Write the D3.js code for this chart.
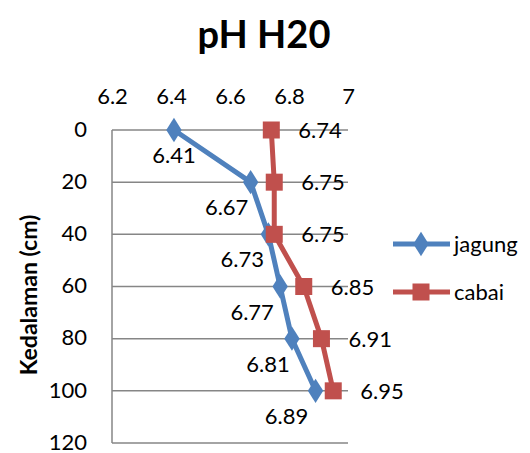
<!DOCTYPE html>
<html><head><meta charset="utf-8">
<script src="https://cdn.jsdelivr.net/npm/d3@7"></script>
<style>body{margin:0;background:#fff}svg{display:block}text{font-family:Lato,"Open Sans",sans-serif}</style>
</head><body>
<svg id="c" width="530" height="453"></svg>
<script>
const depths = [0, 20, 40, 60, 80, 100];
const jagung = [6.41, 6.67, 6.73, 6.77, 6.81, 6.89];
const cabai = [6.74, 6.75, 6.75, 6.85, 6.91, 6.95];
const xTicks = [6.2, 6.4, 6.6, 6.8, 7];
const yTicks = [0, 20, 40, 60, 80, 100, 120];
const seriesNames = ["jagung", "cabai"];
// label offsets for jagung (layout only)
const jagungLabelDx = [0, -24, -26, -28, -24, -29];

const svg = d3.select("#c");
const x = d3.scaleLinear().domain([6.2, 7]).range([112, 348]);
const y = d3.scaleLinear().domain([0, 120]).range([130, 443]);
const grid = "#868686";
const fs = 22;

svg.append("text").attr("x", 264).attr("y", 48).attr("text-anchor", "middle")
  .attr("font-weight", "bold").attr("font-size", 38).text("pH H20");

// gridlines
svg.append("g").selectAll("line").data(yTicks).join("line")
  .attr("x1", x(6.2)).attr("x2", x(7)).attr("y1", d => y(d)).attr("y2", d => y(d))
  .attr("stroke", grid).attr("stroke-width", 1.5);
svg.append("line").attr("x1", x(6.2)).attr("x2", x(6.2)).attr("y1", y(0)).attr("y2", y(120))
  .attr("stroke", grid).attr("stroke-width", 1.5);

// axes
const xa = svg.append("g").attr("transform", `translate(0,${y(0)})`)
  .call(d3.axisTop(x).tickValues(xTicks).tickSize(0).tickPadding(26).tickFormat(d3.format("")));
const ya = svg.append("g").attr("transform", `translate(${x(6.2)},0)`)
  .call(d3.axisLeft(y).tickValues(yTicks).tickSize(0).tickPadding(25));
[xa, ya].forEach(a => { a.select(".domain").remove();
  a.selectAll("text").attr("font-size", fs).attr("font-family", "Lato").attr("fill", "#000"); });
ya.selectAll("text").attr("dy", "0.28em");

svg.append("text").attr("transform", "translate(37,295) rotate(-90)").attr("text-anchor", "middle")
  .attr("font-weight", "bold").attr("font-size", 23).text("Kedalaman (cm)");

const colors = ["#4F81BD", "#C0504D"];
const line = d3.line().x(d => x(d[0])).y(d => y(d[1]));
const diamond = d3.symbol().type(d3.symbolDiamond).size(170);

// jagung
svg.append("path").datum(jagung.map((v, i) => [v, depths[i]])).attr("d", line)
  .attr("fill", "none").attr("stroke", colors[0]).attr("stroke-width", 5).attr("stroke-linejoin", "round");
svg.append("g").selectAll("path").data(jagung).join("path")
  .attr("d", diamond).attr("transform", (d, i) => `translate(${x(d)},${y(depths[i])}) scale(1.1,1)`)
  .attr("fill", colors[0]);

// cabai
svg.append("path").datum(cabai.map((v, i) => [v, depths[i]])).attr("d", line)
  .attr("fill", "none").attr("stroke", colors[1]).attr("stroke-width", 5).attr("stroke-linejoin", "round");
svg.append("g").selectAll("rect").data(cabai).join("rect")
  .attr("x", d => x(d) - 8.5).attr("y", (d, i) => y(depths[i]) - 8.5)
  .attr("width", 17).attr("height", 17).attr("fill", colors[1]);

// labels
svg.append("g").selectAll("text").data(jagung).join("text")
  .attr("x", (d, i) => x(d) + jagungLabelDx[i]).attr("y", (d, i) => y(depths[i]) + 33)
  .attr("text-anchor", "middle").attr("font-size", fs).text(d => d3.format(".2f")(d));
svg.append("g").selectAll("text").data(cabai).join("text")
  .attr("x", d => x(d) + 27).attr("y", (d, i) => y(depths[i]) + 8)
  .attr("font-size", fs).text(d => d3.format(".2f")(d));

// legend
const lg = svg.append("g");
seriesNames.forEach((n, i) => {
  const ly = 244 + i * 48;
  lg.append("line").attr("x1", 393).attr("x2", 450).attr("y1", ly).attr("y2", ly)
    .attr("stroke", colors[i]).attr("stroke-width", 5);
  if (i === 0) lg.append("path").attr("d", diamond).attr("transform", `translate(421,${ly}) scale(1.1,1)`).attr("fill", colors[0]);
  else lg.append("rect").attr("x", 412.5).attr("y", ly - 8.5).attr("width", 17).attr("height", 17).attr("fill", colors[1]);
  lg.append("text").attr("x", 454).attr("y", ly + 8).attr("font-size", fs).text(n);
});
</script>
</body></html>
